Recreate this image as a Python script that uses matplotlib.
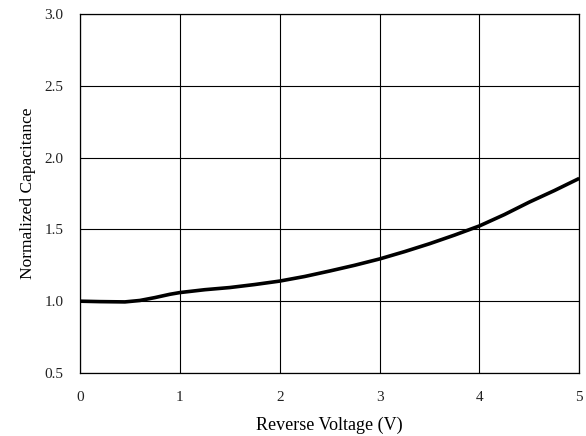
import matplotlib
matplotlib.use("Agg")
import matplotlib.pyplot as plt
from matplotlib.ticker import FormatStrFormatter

# values
voltage = [0, 0.2, 0.45, 0.6, 0.75, 0.9, 1.0, 1.25, 1.5, 1.75, 2.0, 2.25, 2.5, 2.75,
           3.0, 3.25, 3.5, 3.75, 4.0, 4.25, 4.5, 4.75, 5.0]
capacitance = [1.0, 0.997, 0.995, 1.005, 1.025, 1.048, 1.06, 1.08, 1.095, 1.116, 1.14, 1.172,
               1.21, 1.25, 1.294, 1.345, 1.40, 1.46, 1.524, 1.603, 1.69, 1.77, 1.855]

x_ticks = [0, 1, 2, 3, 4, 5]
y_ticks = [0.5, 1.0, 1.5, 2.0, 2.5, 3.0]

plt.rcParams['font.family'] = ['Liberation Serif', 'DejaVu Serif']

fig = plt.figure(figsize=(5.86, 4.36), dpi=100)
ax = fig.add_axes([0.1365, 0.1445, 0.852, 0.8235])

ax.plot(voltage, capacitance, color='black', lw=2.6, solid_capstyle='butt',
        solid_joinstyle='round')

ax.set_xlim(0, 5)
ax.set_ylim(0.5, 3.0)
ax.set_xticks(x_ticks)
ax.set_yticks(y_ticks)
ax.yaxis.set_major_formatter(FormatStrFormatter('%.1f'))
ax.grid(True, color='black', lw=0.8)
ax.tick_params(length=0, labelsize=11, pad=12, colors='#222222')
ax.tick_params(axis='x', pad=13)
for s in ax.spines.values():
    s.set_linewidth(0.9)

ax.set_xlabel('Reverse Voltage (V)', fontsize=13, labelpad=9)
ax.set_ylabel('Normalized Capacitance', fontsize=12.5, labelpad=6)

fig.savefig('out.png', dpi=100)
